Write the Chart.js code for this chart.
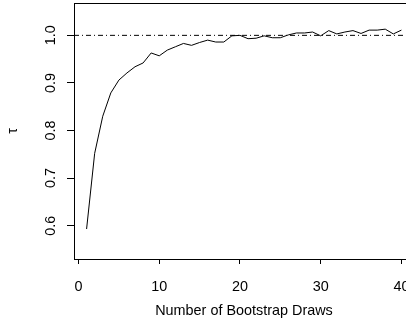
<!DOCTYPE html>
<html>
<head>
<meta charset="utf-8">
<script src="https://cdn.jsdelivr.net/npm/chart.js@4.4.0/dist/chart.umd.min.js"></script>
<style>
  html, body { margin: 0; padding: 0; background: #fff; }
  #wrap { width: 406px; height: 330px; overflow: hidden; }
</style>
</head>
<body>
<div id="wrap"><canvas id="chart" width="420" height="330"></canvas></div>
<script>
// bootstrap draws and the tau estimate after each draw
const draws = [1, 2, 3, 4, 5, 6, 7, 8, 9, 10,
  11, 12, 13, 14, 15, 16, 17, 18, 19, 20,
  21, 22, 23, 24, 25, 26, 27, 28, 29, 30,
  31, 32, 33, 34, 35, 36, 37, 38, 39, 40];
const tau = [0.593, 0.752, 0.830, 0.879, 0.906, 0.921, 0.934, 0.942, 0.963, 0.957,
  0.969, 0.976, 0.983, 0.979, 0.985, 0.990, 0.986, 0.986, 0.999, 1.000,
  0.993, 0.994, 0.999, 0.995, 0.995, 1.001, 1.005, 1.005, 1.007, 0.999,
  1.010, 1.003, 1.007, 1.010, 1.004, 1.011, 1.011, 1.013, 1.003, 1.011];
const refValue = 1.0;

const xTicks = [0, 10, 20, 30, 40];
const yTicks = [0.6, 0.7, 0.8, 0.9, 1.0];
const yTickLabels = ['0.6', '0.7', '0.8', '0.9', '1.0'];

const xMin = -0.56, xMax = 41.56;
const yMin = 0.530, yMax = 1.068;

const FONT = 'Liberation Sans, Arial, Helvetica, sans-serif';
const FONT_SIZE = 14.4;

// box around the plot region plus rotated y labels, base R style
const framePlugin = {
  id: 'frame',
  afterDraw(chart) {
    const { ctx, chartArea: a } = chart;
    const y = chart.scales.y;
    ctx.save();
    ctx.strokeStyle = '#000';
    ctx.lineWidth = 1;
    ctx.strokeRect(Math.round(a.left) + 0.5, Math.round(a.top) + 0.5,
      Math.round(a.right - a.left), Math.round(a.bottom - a.top));
    ctx.fillStyle = '#000';
    ctx.font = FONT_SIZE + 'px ' + FONT;
    ctx.textAlign = 'center';
    ctx.textBaseline = 'alphabetic';
    yTicks.forEach((v, i) => {
      const py = y.getPixelForValue(v);
      ctx.save();
      ctx.translate(a.left - 19.5, py);
      ctx.rotate(-Math.PI / 2);
      ctx.fillText(yTickLabels[i], 0, 0);
      ctx.restore();
    });
    ctx.restore();
  }
};

new Chart(document.getElementById('chart'), {
  type: 'line',
  data: {
    datasets: [
      {
        data: draws.map((d, i) => ({ x: d, y: tau[i] })),
        borderColor: '#000',
        borderWidth: 1,
        pointRadius: 0,
        tension: 0,
      },
      {
        data: [{ x: xMin, y: refValue }, { x: xMax, y: refValue }],
        borderColor: '#000',
        borderWidth: 1,
        borderDash: [5, 3, 1, 3],
        pointRadius: 0,
      }
    ]
  },
  options: {
    responsive: false,
    animation: false,
    layout: { padding: { top: 3, right: 6, bottom: 0, left: 0 } },
    plugins: { legend: { display: false }, tooltip: { enabled: false } },
    scales: {
      x: {
        type: 'linear',
        min: xMin,
        max: xMax,
        afterBuildTicks: (scale) => { scale.ticks = xTicks.map(v => ({ value: v })); },
        afterFit: (scale) => {
          scale.height = 71;
          // let the last label run off the edge instead of squeezing the plot
          scale.paddingLeft = 0;
          scale.paddingRight = 0;
        },
        grid: { drawOnChartArea: false, tickLength: 5, color: '#000' },
        border: { display: false },
        ticks: { color: '#000', font: { family: FONT, size: FONT_SIZE }, padding: 14, maxRotation: 0 },
        title: {
          display: true,
          text: 'Number of Bootstrap Draws',
          color: '#000',
          font: { family: FONT, size: FONT_SIZE },
          padding: { top: 0, bottom: 10 }
        }
      },
      y: {
        min: yMin,
        max: yMax,
        afterBuildTicks: (scale) => { scale.ticks = yTicks.map(v => ({ value: v })); },
        afterFit: (scale) => {
          scale.width = 74;
          scale.paddingTop = 0;
          scale.paddingBottom = 0;
        },
        grid: { drawOnChartArea: false, tickLength: 7, color: '#000' },
        border: { display: false },
        ticks: { display: false },
        title: {
          display: true,
          text: 'τ',
          color: '#000',
          font: { family: FONT, size: FONT_SIZE },
          padding: { top: 4, bottom: 0 }
        }
      }
    }
  },
  plugins: [framePlugin]
});
</script>
</body>
</html>
